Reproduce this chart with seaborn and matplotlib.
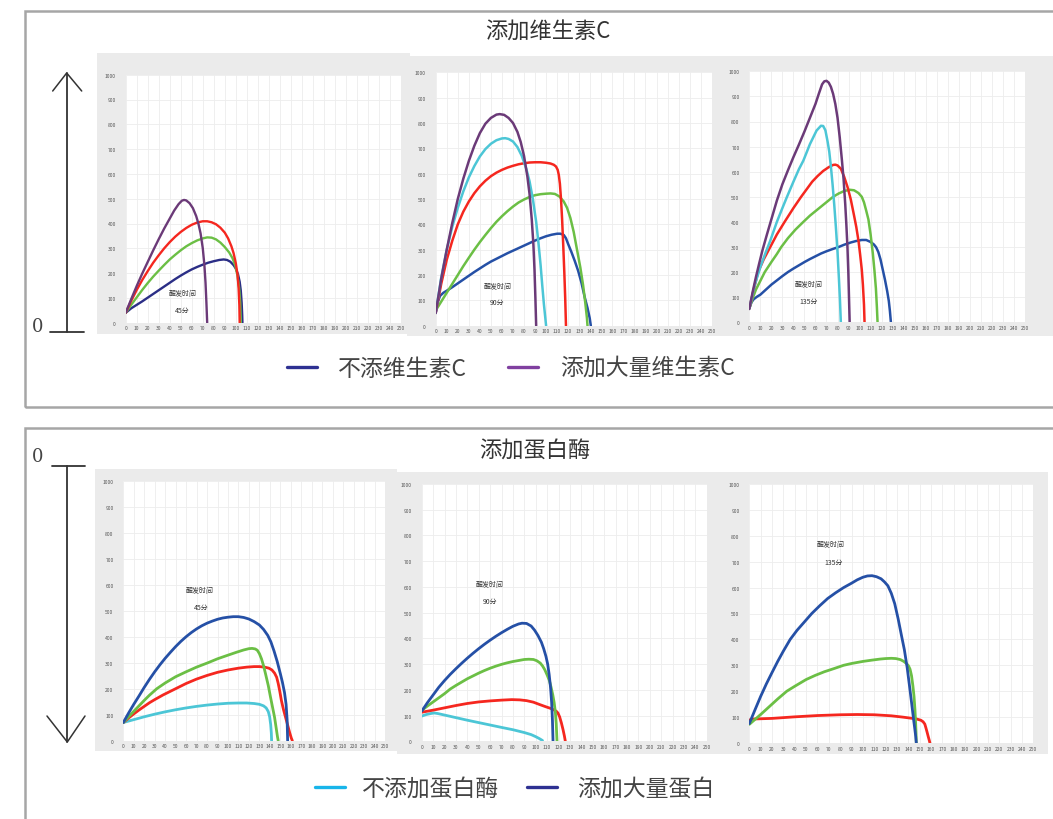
import pandas as pd
import matplotlib
matplotlib.use('Agg')
import matplotlib.pyplot as plt
from matplotlib.patches import Rectangle
from matplotlib.lines import Line2D
import seaborn as sns

# 添加维生素C, 醒发时间 45分 (time, volume)
vc45_purple = [(0, 40), (5, 95), (10, 148), (15, 198), (20, 245), (25, 292), (30, 337), (35, 380), (40, 420),
               (44, 452), (48, 478), (51, 492), (53, 495), (55, 493), (58, 482), (61, 462), (64, 430), (66, 400),
               (68, 360), (70, 300), (71.5, 230), (72.5, 160), (73.3, 80), (74, 0)]
vc45_red = [(0, 40), (5, 88), (10, 132), (15, 172), (20, 208), (25, 242), (30, 272), (35, 300), (40, 325),
            (45, 347), (50, 366), (55, 382), (60, 395), (65, 404), (70, 409), (74, 409), (78, 405), (82, 397),
            (86, 383), (90, 363), (93, 340), (96, 308), (98, 280), (100, 240), (101.5, 195), (102.5, 140),
            (103.2, 70), (103.5, 0)]
vc45_green = [(0, 40), (5, 72), (10, 102), (15, 132), (20, 160), (25, 186), (30, 210), (35, 233), (40, 255),
              (45, 274), (50, 292), (55, 308), (60, 321), (65, 332), (70, 340), (74, 344), (78, 343), (82, 336),
              (86, 323), (90, 305), (94, 283), (97, 260), (99.5, 230), (101.5, 190), (103, 140), (104, 80),
              (104.5, 0)]
vc45_navy = [(0, 40), (5, 58), (10, 72), (15, 86), (20, 101), (25, 116), (30, 131), (35, 146), (40, 161),
             (45, 176), (50, 190), (55, 203), (60, 215), (65, 225), (70, 234), (75, 242), (80, 248), (85, 253),
             (89, 255), (92, 253), (95, 246), (98, 232), (100, 218), (102, 195), (103.5, 165), (104.5, 130),
             (105.3, 80), (105.8, 30), (106, 0)]

# 添加维生素C, 醒发时间 90分
vc90_purple = [(0, 50), (5, 185), (10, 300), (15, 405), (20, 500), (25, 580), (30, 650), (35, 710), (40, 760),
               (45, 797), (50, 820), (55, 833), (58, 835), (62, 832), (66, 820), (70, 800), (74, 765), (77, 725),
               (80, 670), (83, 590), (85, 520), (87, 420), (88.5, 320), (89.5, 220), (90.3, 110), (91, 0)]
vc90_cyan = [(0, 50), (5, 190), (10, 300), (15, 390), (20, 465), (25, 530), (30, 585), (35, 630), (40, 668),
             (45, 697), (50, 718), (55, 732), (60, 739), (63, 740), (66, 737), (70, 727), (74, 705), (78, 670),
             (82, 620), (85, 570), (88, 500), (91, 410), (93, 330), (95, 240), (96.5, 160), (98, 85), (99.3, 30),
             (100, 0)]
vc90_red = [(0, 50), (5, 165), (10, 260), (15, 335), (20, 400), (25, 450), (30, 490), (35, 523), (40, 550),
            (45, 572), (50, 590), (55, 604), (60, 615), (65, 624), (70, 631), (75, 637), (80, 641), (85, 644),
            (90, 645), (95, 645), (100, 643), (104, 640), (107, 635), (109, 628), (110.5, 615), (111.5, 595),
            (112.5, 560), (113.5, 500), (114.5, 420), (115.5, 320), (116.5, 210), (117.3, 110), (118, 0)]
vc90_green = [(0, 60), (5, 95), (10, 130), (15, 165), (20, 200), (25, 235), (30, 268), (35, 300), (40, 330),
              (45, 358), (50, 385), (55, 410), (60, 432), (65, 452), (70, 470), (75, 486), (80, 498), (85, 508),
              (90, 515), (95, 519), (100, 521), (104, 522), (108, 520), (112, 510), (116, 490), (119, 465),
              (122, 425), (125, 370), (128, 300), (131, 230), (133.5, 160), (135.5, 90), (137, 30), (137.5, 0)]
vc90_navy = [(0, 52), (2, 95), (4, 118), (7, 130), (10, 138), (15, 152), (20, 167), (25, 182), (30, 197),
             (35, 212), (40, 226), (45, 240), (50, 253), (55, 264), (60, 275), (65, 286), (70, 296), (75, 306),
             (80, 316), (85, 326), (90, 336), (95, 345), (100, 353), (105, 359), (110, 363), (113, 363),
             (116, 358), (118, 345), (120, 322), (123, 290), (126, 255), (129, 217), (132, 170), (135, 112),
             (137.5, 70), (139.5, 30), (140.5, 0)]

# 添加维生素C, 醒发时间 135分
vc135_purple = [(0, 53), (3, 120), (6, 180), (9, 235), (12, 288), (16, 350), (20, 410), (25, 485), (30, 550),
                (35, 605), (40, 658), (45, 708), (50, 760), (55, 815), (60, 870), (63, 910), (66, 948), (68, 960),
                (70, 962), (72, 955), (74, 938), (76, 910), (78, 870), (80, 815), (82, 737), (84, 645),
                (85.5, 570), (87, 470), (88, 390), (89, 300), (89.8, 200), (90.4, 100), (91, 0)]
vc135_cyan = [(0, 55), (5, 150), (10, 220), (15, 280), (19, 325), (25, 400), (30, 455), (34, 498), (40, 560),
              (45, 610), (49, 644), (55, 710), (61, 764), (65, 783), (67, 782), (69, 765), (71, 720), (72.5, 680),
              (74, 620), (75.5, 550), (77, 470), (78.5, 380), (80, 280), (81.2, 180), (82.2, 90), (83, 0)]
vc135_red = [(0, 55), (4, 130), (8, 200), (13, 250), (19, 300), (25, 350), (32, 400), (40, 455), (47, 500),
             (52, 530), (57, 560), (62, 583), (67, 603), (72, 618), (76, 627), (78, 628), (80, 625), (83, 612),
             (86, 580), (89, 540), (92, 490), (95, 425), (97, 380), (99, 325), (100.5, 270), (102, 210),
             (103, 150), (104, 70), (104.5, 0)]
vc135_green = [(0, 55), (3, 95), (6, 130), (10, 165), (14, 200), (20, 240), (25, 272), (29, 300), (35, 335),
               (42, 370), (49, 400), (55, 425), (62, 450), (69, 475), (76, 500), (81, 513), (86, 523), (91, 528),
               (95, 526), (99, 515), (102, 500), (104, 478), (106, 445), (108, 410), (110, 350), (112, 275),
               (113.5, 205), (114.8, 135), (115.7, 60), (116.3, 0)]
vc135_navy = [(0, 55), (2, 80), (4, 92), (7, 102), (10, 110), (15, 130), (20, 150), (25, 167), (30, 184),
              (35, 200), (40, 214), (45, 227), (50, 240), (55, 252), (60, 263), (65, 274), (70, 283), (75, 291),
              (81, 300), (86, 309), (92, 318), (97, 324), (102, 328), (106, 328), (110, 320), (113, 310),
              (115, 299), (117, 280), (119, 250), (121, 210), (123, 170), (125, 125), (126.5, 85), (127.5, 45),
              (128.4, 0)]

# 添加蛋白酶, 醒发时间 45分
bp45_navy = [(0, 70), (5, 106), (10, 140), (15, 172), (20, 205), (25, 236), (30, 265), (35, 292), (40, 317),
             (45, 340), (50, 362), (55, 382), (60, 400), (65, 416), (70, 430), (75, 442), (80, 452), (85, 460),
             (90, 467), (95, 472), (100, 475), (105, 477), (110, 477), (115, 474), (120, 468), (125, 458),
             (130, 445), (134, 428), (138, 405), (141, 380), (144, 345), (147, 305), (150, 258), (152, 225),
             (154, 185), (155.5, 140), (156.5, 80), (157, 0)]
bp45_green = [(0, 70), (5, 92), (10, 113), (15, 134), (20, 155), (25, 175), (32, 200), (40, 222), (50, 246),
              (60, 265), (70, 283), (81, 300), (90, 315), (100, 329), (108, 340), (115, 349), (120, 354),
              (123, 355), (126, 353), (128, 348), (130, 335), (132, 315), (134, 288), (136, 255), (138.5, 212),
              (140.5, 170), (142.5, 130), (144.5, 90), (146, 50), (147.3, 15), (148, 0)]
bp45_red = [(0, 70), (5, 87), (10, 103), (15, 118), (20, 132), (25, 146), (30, 158), (38, 176), (45, 190),
            (51, 202), (60, 220), (70, 237), (80, 251), (90, 263), (100, 272), (110, 279), (118, 283), (125, 285),
            (130, 285), (135, 283), (139, 279), (142, 272), (144.5, 260), (146.5, 244), (148, 220), (149.5, 190),
            (151, 155), (153, 120), (155, 90), (157, 60), (159, 30), (160.5, 10), (161.5, 0)]
bp45_cyan = [(0, 70), (10, 81), (20, 92), (30, 102), (40, 111), (50, 119), (60, 126), (70, 132), (80, 137),
             (90, 141), (100, 144), (110, 145), (118, 145), (125, 143), (130, 140), (134, 134), (136.5, 126),
             (138.5, 112), (139.8, 92), (140.8, 62), (141.4, 30), (141.7, 0)]

# 添加蛋白酶, 醒发时间 90分
bp90_navy = [(0, 117), (5, 150), (10, 180), (15, 210), (20, 236), (25, 260), (30, 282), (35, 303), (40, 323),
             (45, 342), (50, 360), (55, 377), (60, 393), (65, 408), (70, 422), (75, 435), (80, 447), (85, 456),
             (88, 459), (92, 458), (96, 448), (99, 432), (102, 411), (105, 385), (107, 360), (109, 330),
             (110.5, 300), (111.8, 260), (113, 210), (114, 150), (114.7, 80), (115.2, 0)]
bp90_green = [(0, 120), (5, 137), (10, 153), (15, 169), (20, 185), (25, 203), (30, 217), (35, 230), (40, 243),
              (45, 254), (50, 265), (55, 275), (60, 284), (65, 292), (70, 299), (75, 305), (80, 310), (85, 314),
              (90, 318), (94, 319), (98, 318), (101, 313), (104, 304), (106, 293), (108, 278), (110, 258),
              (112, 236), (113.5, 210), (115, 180), (116.2, 150), (117.2, 115), (118, 70), (118.7, 0)]
bp90_red = [(0, 113), (10, 121), (20, 130), (30, 139), (40, 147), (50, 153), (60, 157), (70, 160), (79, 162),
            (86, 161), (92, 158), (98, 152), (104, 142), (109, 134), (113, 128), (116, 122), (118, 117),
            (119.5, 110), (121, 95), (122.5, 72), (124, 45), (125.2, 20), (126, 0)]
bp90_cyan = [(0, 98), (4, 104), (8, 108), (11, 110), (14, 108), (18, 104), (25, 97), (40, 82), (55, 68), (70, 54),
             (80, 45), (90, 34), (96, 26), (100, 18), (103, 11), (106, 3)]

# 添加蛋白酶, 醒发时间 135分
bp135_navy = [(0, 75), (5, 128), (10, 180), (15, 228), (20, 272), (25, 315), (30, 355), (36, 400), (42, 435),
              (48, 465), (55, 500), (62, 530), (69, 558), (76, 580), (83, 600), (90, 617), (95, 630), (100, 640),
              (104, 645), (108, 646), (112, 642), (116, 634), (119, 622), (122, 607), (125, 578), (128, 538),
              (131, 480), (134, 414), (136.5, 360), (139, 290), (141, 221), (143, 150), (144.5, 95), (145.7, 54),
              (146.5, 25), (147, 0)]
bp135_green = [(0, 72), (5, 91), (10, 110), (15, 130), (20, 150), (25, 170), (33, 200), (40, 219), (50, 245),
               (58, 261), (66, 275), (75, 288), (83, 300), (90, 307), (100, 315), (108, 320), (115, 324), (120, 326),
               (125, 327), (129, 326), (133, 322), (136, 315), (138.5, 306), (140, 299), (141.5, 285), (142.8, 260),
               (144, 221), (145, 180), (145.8, 130), (146.4, 80), (146.8, 35), (147, 0)]
bp135_red = [(0, 88), (2, 92), (6, 93), (20, 95), (40, 101), (60, 106), (80, 109), (95, 110), (110, 109), (125, 105),
             (135, 100), (142, 96), (147, 93), (151, 88), (153, 82), (154.5, 73), (155.5, 58), (156.5, 42),
             (157.5, 25), (158.5, 9), (159, 0)]

x_ticks = list(range(0, 251, 10))
y_ticks = list(range(0, 1001, 100))

colors = {'purple': '#6b3a78', 'cyan': '#4cc6d6', 'red': '#f5271f', 'green': '#6bbf45',
          'navy': '#2550a6', 'navy_dark': '#2b2e86'}

sns.set_style('white')
plt.rcParams['font.family'] = ['Noto Sans CJK SC', 'DejaVu Sans']

W, H = 1053, 820
fig = plt.figure(figsize=(W / 100, H / 100), dpi=100)
fig.patch.set_facecolor('white')


def fig_rect(x0, y0, x1, y1, **kw):
    fig.add_artist(Rectangle((x0 / W, 1 - y1 / H), (x1 - x0) / W, (y1 - y0) / H,
                             transform=fig.transFigure, **kw))


def fig_line(xs, ys, **kw):
    fig.add_artist(Line2D([x / W for x in xs], [1 - y / H for y in ys], transform=fig.transFigure, **kw))


def fig_text(x, y, s, **kw):
    fig.text(x / W, 1 - y / H, s, va='center', **kw)


def chart(bg, area, curves, notes, lw):
    fig_rect(*bg, facecolor='#ebebeb', edgecolor='none', zorder=-1)
    x0, y0, x1, y1 = area
    ax = fig.add_axes([x0 / W, 1 - y1 / H, (x1 - x0) / W, (y1 - y0) / H])
    frames = []
    for name, pts in curves:
        df = pd.DataFrame(pts, columns=['t', 'v'])
        df['curve'] = name
        frames.append(df)
    data = pd.concat(frames, ignore_index=True)
    sns.lineplot(data=data, x='t', y='v', hue='curve', palette=colors, sort=False,
                 estimator=None, legend=False, lw=lw, ax=ax)
    for ln in ax.lines:
        ln.set_solid_joinstyle('round')
    ax.set_facecolor('white')
    ax.set_xlim(0, 250)
    ax.set_ylim(0, 1000)
    ax.set_xticks(x_ticks)
    ax.set_yticks(y_ticks)
    ax.tick_params(labelsize=3.6, labelcolor='#555555', length=0, pad=2)
    ax.tick_params(axis='y', pad=7)
    ax.grid(True, color='#ededed', lw=0.6)
    ax.set_axisbelow(True)
    ax.set_xlabel('')
    ax.set_ylabel('')
    for s in ax.spines.values():
        s.set_visible(False)
    for (tx, ty, s) in notes:
        ax.text(tx, ty, s, fontsize=5, color='#333333', ha='center', va='center')
    return ax


# ---- top block: 添加维生素C ----
fig_rect(25, 12, 1070, 408, facecolor='none', edgecolor='#a6a6a6', lw=1.8, zorder=5)
fig_text(548, 32, '添加维生素C', ha='center', fontsize=16, color='#333333')

chart((97, 54, 410, 335), (125.7, 75.7, 401, 323.7),
      [('navy_dark', vc45_navy), ('green', vc45_green), ('red', vc45_red), ('purple', vc45_purple)],
      [(52, 118, '醒发时间'), (51, 51, '45分')], 1.7)
chart((407, 57, 722, 337), (435.7, 73.3, 711.7, 326.7),
      [('navy', vc90_navy), ('green', vc90_green), ('red', vc90_red), ('cyan', vc90_cyan), ('purple', vc90_purple)],
      [(56, 158, '醒发时间'), (56, 92, '90分')], 1.8)
chart((722, 57, 1053, 337), (749.3, 72.3, 1025, 323.3),
      [('navy', vc135_navy), ('green', vc135_green), ('red', vc135_red), ('cyan', vc135_cyan),
       ('purple', vc135_purple)],
      [(54, 153, '醒发时间'), (53.5, 86, '135分')], 1.8)

# up arrow
fig_line([66.7, 66.7], [333, 74], color='#333333', lw=1.3)
fig_line([52.7, 66.7, 81.7], [92, 74, 92], color='#333333', lw=1.1)
fig_line([50, 84], [333, 333], color='#333333', lw=1.3)
fig_text(38, 327, '0', ha='center', fontsize=13, color='#444444', family=['DejaVu Serif'])

# legend
fig_line([287, 317], [368, 368], color='#2e3192', lw=2.4)
fig_text(338, 370, '不添维生素C', ha='left', fontsize=16.5, color='#444444')
fig_line([508, 538], [368, 368], color='#8040a0', lw=2.4)
fig_text(560, 368, '添加大量维生素C', ha='left', fontsize=16.5, color='#444444')

# ---- bottom block: 添加蛋白酶 ----
fig_rect(25, 429, 1070, 840, facecolor='none', edgecolor='#a6a6a6', lw=1.8, zorder=5)
fig_text(535, 451, '添加蛋白酶', ha='center', fontsize=16, color='#333333')

chart((95, 470, 397, 752), (123.3, 481.7, 385, 741.7),
      [('cyan', bp45_cyan), ('red', bp45_red), ('green', bp45_green), ('navy', bp45_navy)],
      [(73, 580, '醒发时间'), (74, 515, '45分')], 2.0)
chart((397, 473, 713, 755), (421.7, 485, 706.7, 742.3),
      [('cyan', bp90_cyan), ('red', bp90_red), ('green', bp90_green), ('navy', bp90_navy)],
      [(60, 611, '醒发时间'), (60, 544, '90分')], 2.0)
chart((713, 473, 1048, 755), (749.3, 485, 1033.3, 744),
      [('red', bp135_red), ('green', bp135_green), ('navy', bp135_navy)],
      [(72, 768, '醒发时间'), (74, 701, '135分')], 2.0)

# down arrow
fig_line([52, 85], [466.7, 466.7], color='#333333', lw=1.3)
fig_line([67.3, 67.3], [466.7, 743], color='#333333', lw=1.3)
fig_line([47, 67.3, 85], [717, 743, 717], color='#333333', lw=1.1)
fig_text(38, 457, '0', ha='center', fontsize=13, color='#444444', family=['DejaVu Serif'])

# legend
fig_line([315, 345], [788, 788], color='#18b5ea', lw=2.4)
fig_text(362, 789, '不添加蛋白酶', ha='left', fontsize=16.5, color='#444444')
fig_line([527, 557], [788, 788], color='#2e3192', lw=2.4)
fig_text(577, 789, '添加大量蛋白', ha='left', fontsize=16.5, color='#444444')

fig.savefig('out.png', dpi=100)
